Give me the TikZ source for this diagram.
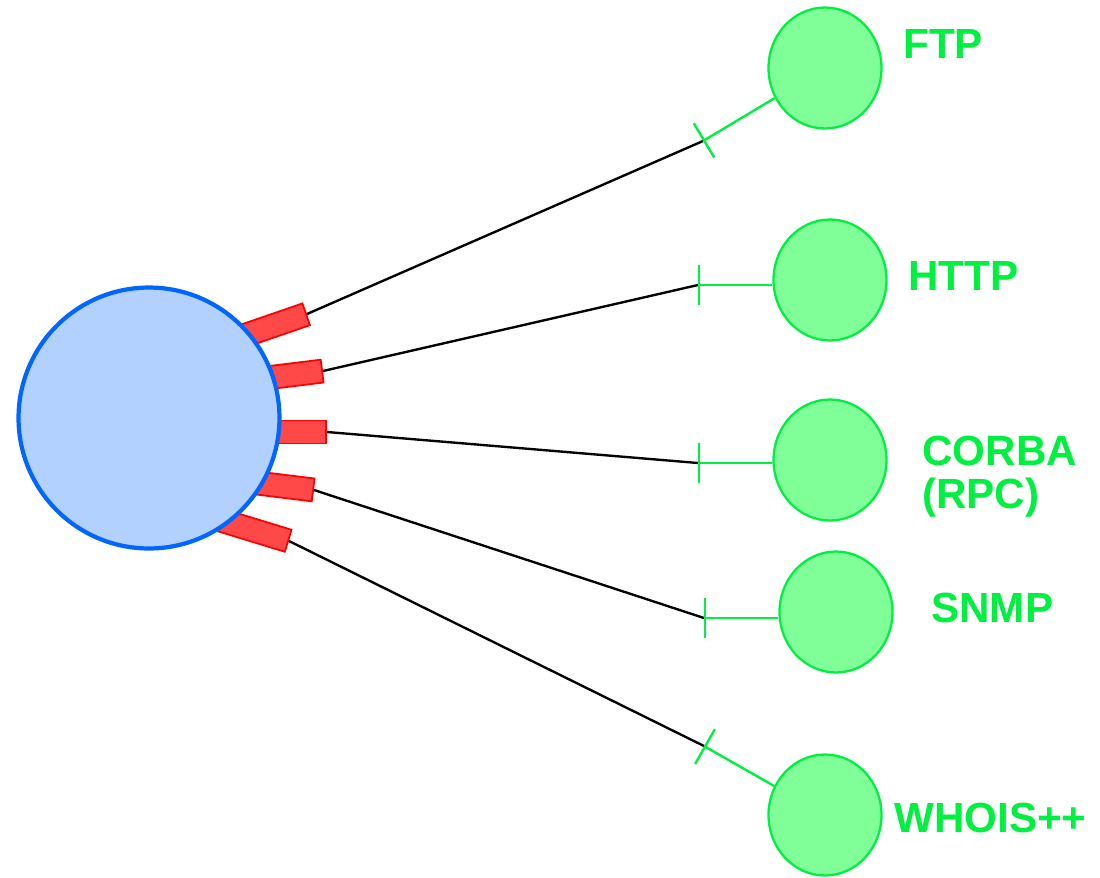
\documentclass[tikz,border=0pt]{standalone}
\usepackage{fontspec}
\setmainfont{Liberation Sans}
\usetikzlibrary{shapes.geometric, arrows.meta, positioning}
\definecolor{hubblue}{HTML}{0066FF}
\definecolor{hubfill}{HTML}{B3D1FF}
\definecolor{portred}{HTML}{FF0000}
\definecolor{portfill}{HTML}{FF4848}
\definecolor{svcgreen}{HTML}{00F040}
\definecolor{svcfill}{HTML}{80FF99}

\begin{document}
\begin{tikzpicture}[x=0.02cm, y=-0.02cm,
  port/.style={draw=portred, fill=portfill, line width=1pt, minimum width=1.8cm, minimum height=0.46cm, inner sep=0pt, anchor=east},
  svc/.style={ellipse, draw=svcgreen, fill=svcfill, line width=1.3pt, minimum width=2.26cm, minimum height=2.42cm, inner sep=0pt},
  svclabel/.style={svcgreen, anchor=west, inner sep=0pt, align=left, font=\fontsize{24}{24.5}\selectfont\bfseries},
  link/.style={black, line width=1.35pt},
  stub/.style={svcgreen, line width=1.35pt, {Bar[width=0.8cm]}-}]
  \useasboundingbox (0,0) rectangle (1100,877);

  % ports, half hidden under the hub
  \foreach \i/\x/\y/\a in {1/307/314/19, 2/323/371/7, 3/327/432/0, 4/314/490/-7, 5/289/541/-17}
    \node[port, rotate=\a] (port\i) at (\x,\y) {};

  % hub
  \node[circle, draw=hubblue, fill=hubfill, line width=2.4pt, minimum size=5.22cm, inner sep=0pt] (hub) at (149,418) {};

  % services
  \foreach \i/\x/\y in {1/825/68, 2/830/280, 3/830/460, 4/836/612, 5/825/815}
    \node[svc] (svc\i) at (\x,\y) {};

  % labels
  \node[svclabel] (ftp) at (903,44) {FTP};
  \node[svclabel] (http) at (908,276) {HTTP};
  \node[svclabel] (corba) at (922,477) {CORBA\\(RPC)};
  \node[svclabel] (snmp) at (931,608) {SNMP};
  \node[svclabel] (whois) at (894,818) {WHOIS++};

  % joints between black and green parts
  \foreach \i/\x/\y in {1/703/141, 2/698/285, 3/698/463, 4/704/618, 5/704/746}
    \coordinate (tick\i) at (\x,\y);

  % links
  \foreach \i in {1,...,5}
    \draw[link] (port\i.east) -- (tick\i);
  \draw[stub] (tick1) -- (svc1);
  \foreach \i in {2,3,4}
    \draw[stub] (tick\i) -- (tick\i -| svc\i.west);
  \draw[stub] (tick5) -- (svc5);
\end{tikzpicture}
\end{document}
